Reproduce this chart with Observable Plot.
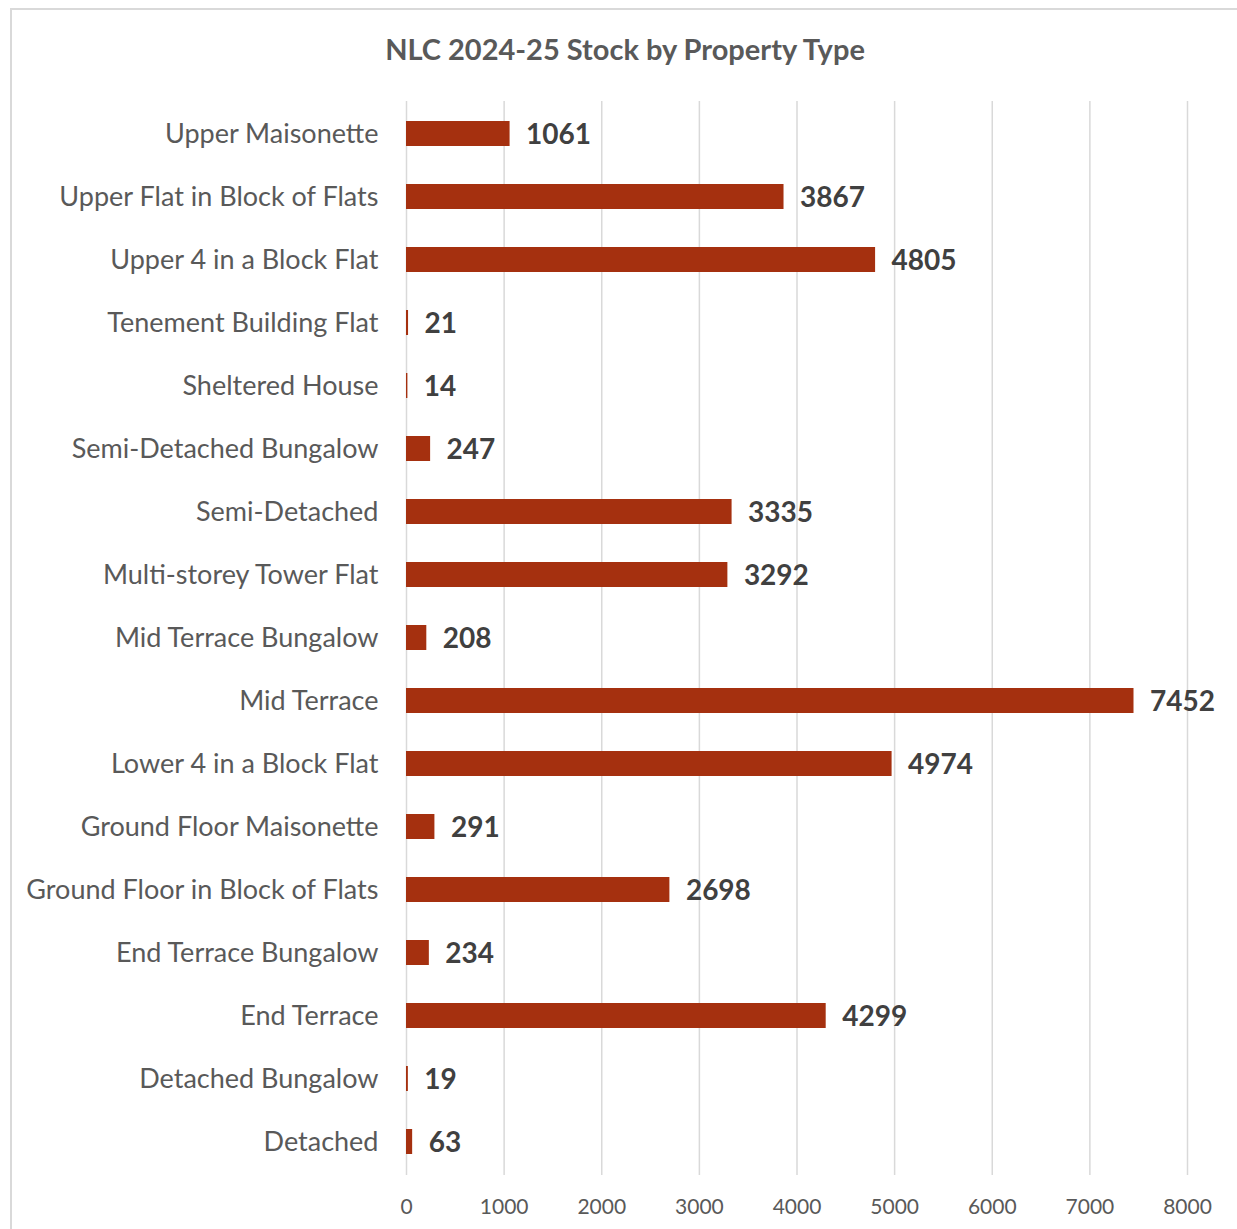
<!DOCTYPE html>
<html><head><meta charset="utf-8">
<script src="https://cdn.jsdelivr.net/npm/d3@7"></script>
<script src="https://cdn.jsdelivr.net/npm/@observablehq/plot@0.6"></script>
<style>
html,body{margin:0;padding:0;background:#fff;}
#wrap{position:relative;width:1237px;height:1229px;overflow:hidden;}
#frame{position:absolute;left:10px;top:8px;width:1240px;height:1240px;border:2px solid #d9d9d9;box-sizing:border-box;}
#title{position:absolute;left:10px;width:1230px;top:31px;text-align:center;font-family:Lato,"Open Sans",sans-serif;font-weight:bold;font-size:29px;color:#595959;}
#chart{position:absolute;left:0;top:0;}
</style></head>
<body>
<div id="wrap"><div id="frame"></div><div id="title">NLC 2024-25 Stock by Property Type</div><div id="chart"></div></div>
<script>
const categories = ["Upper Maisonette","Upper Flat in Block of Flats","Upper 4 in a Block Flat","Tenement Building Flat","Sheltered House","Semi-Detached Bungalow","Semi-Detached","Multi-storey Tower Flat","Mid Terrace Bungalow","Mid Terrace","Lower 4 in a Block Flat","Ground Floor Maisonette","Ground Floor in Block of Flats","End Terrace Bungalow","End Terrace","Detached Bungalow","Detached"];
const values = [1061,3867,4805,21,14,247,3335,3292,208,7452,4974,291,2698,234,4299,19,63];
const xTicks = [0,1000,2000,3000,4000,5000,6000,7000,8000];
const data = categories.map((c,i)=>({type:c, value:values[i]}));

const chart = Plot.plot({
  width:1237, height:1229,
  marginTop:101, marginBottom:54, marginLeft:406, marginRight:50,
  style:{fontFamily:'Lato,"Open Sans",sans-serif', background:"transparent"},
  x:{domain:[0,8000], ticks:xTicks, grid:false},
  y:{domain:categories, paddingInner:0.6, paddingOuter:0.3, label:null},
  marks:[
    Plot.ruleX(xTicks,{stroke:"#d9d9d9", strokeWidth:1.5}),
    Plot.barX(data,{y:"type", x:"value", fill:"#a5300f"}),
    Plot.text(data,{y:"type", x:"value", text:d=>String(d.value), textAnchor:"start", dx:16, dy:1, fontSize:28, fontWeight:"bold", fill:"#404040"}),
    Plot.axisX({ticks:xTicks, tickSize:0, tickPadding:24, label:null, fontSize:21, color:"#595959", tickFormat:d=>String(d)}),
    Plot.axisY({tickSize:0, tickPadding:28, label:null, fontSize:27, color:"#595959"})
  ]
});
document.getElementById("chart").appendChild(chart);
</script>
</body></html>
